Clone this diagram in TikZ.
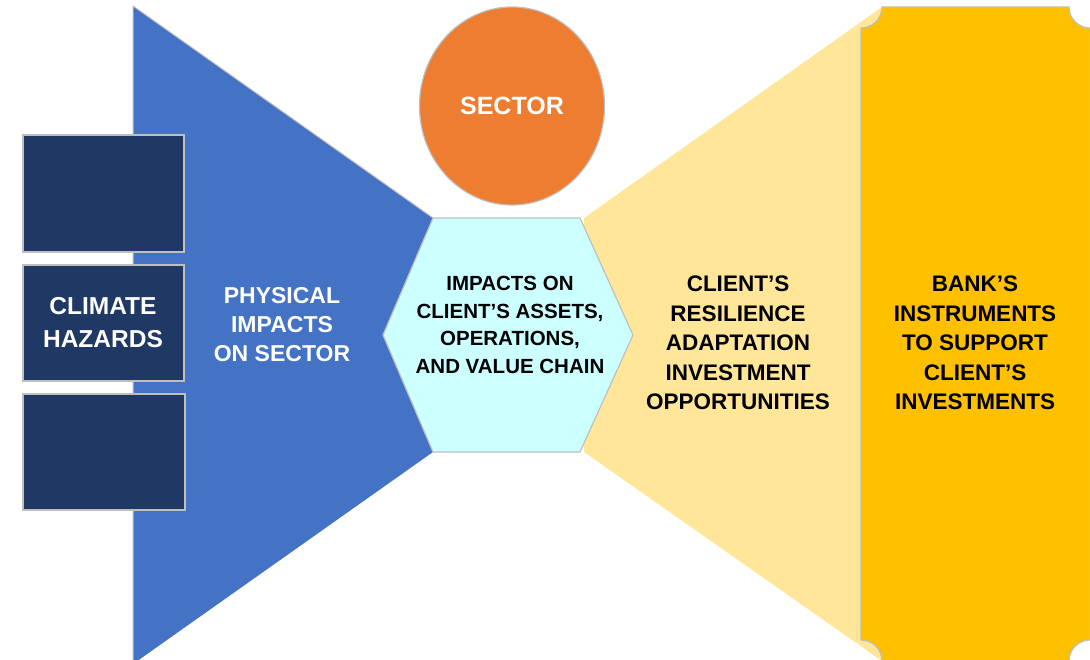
\documentclass[tikz,border=0pt]{standalone}
\usepackage{fontspec}
\setmainfont{Liberation Sans}

\definecolor{hazardblue}{HTML}{1F3864}
\definecolor{impactblue}{HTML}{4472C4}
\definecolor{sectororange}{HTML}{ED7D31}
\definecolor{hexcyan}{HTML}{CCFFFF}
\definecolor{paleyellow}{HTML}{FFE699}
\definecolor{bankyellow}{HTML}{FFC000}
\definecolor{edgegray}{HTML}{BFBFBF}

\begin{document}
\begin{tikzpicture}[x=1pt, y=-1pt,
    edge/.style={draw=edgegray, line width=1.2pt},
    label/.style={align=center, font=\bfseries},
    hazard/.style={edge, fill=hazardblue}]
        \useasboundingbox (0,0) rectangle (1090,660);
        \clip (0,0) rectangle (1090,660);

        % funnel coming in from the left
        \coordinate (bt) at (133,6);
        \coordinate (bb) at (133,664);
        \coordinate (bht) at (433,218);
        \coordinate (bhb) at (433,452);
        \fill [impactblue] (bt) -- (bht) -- (bhb) -- (bb) -- cycle;
        \draw [edgegray, line width=1pt] (bb) -- (bt) -- (bht);

        % funnel going out to the right
        \coordinate (yt) at (882,7);
        \coordinate (yb) at (882,661);
        \coordinate (yht) at (584,218);
        \coordinate (yhb) at (584,452);
        \fill [paleyellow] (yht) -- (yt) -- (yb) -- (yhb) -- cycle;

        % plaque on the right
        \draw [edge, fill=bankyellow] (861,28) arc [start angle=90, end angle=0, radius=21]
          -- (1069,7) arc [start angle=180, end angle=90, radius=21]
          -- (1090,640) arc [start angle=270, end angle=180, radius=21]
          -- (882,661) arc [start angle=0, end angle=-90, radius=21]
          -- cycle;

        % hazard boxes
        \draw [hazard] (23,135) rectangle (184,252);
        \draw [hazard] (23,265) rectangle (184,381);
        \draw [hazard] (23,394) rectangle (185,510);

        % hexagon in the middle
        \coordinate (h1) at (433,218);
        \coordinate (h2) at (580,218);
        \coordinate (h3) at (633,335);
        \coordinate (h4) at (580,452);
        \coordinate (h5) at (433,452);
        \coordinate (h6) at (383,335);
        \draw [edge, fill=hexcyan] (h1) -- (h2) -- (h3) -- (h4) -- (h5) -- (h6) -- cycle;

        % sector circle
        \draw [edge, fill=sectororange] (512,106) ellipse [x radius=92.5, y radius=99];

        \node [label, text=white, font=\bfseries\fontsize{24.5}{33}\selectfont] (hazards) at (103,323)
          {CLIMATE\\HAZARDS};
        \node [label, text=white, font=\bfseries\fontsize{23}{29}\selectfont] (physical) at (282,325)
          {PHYSICAL\\IMPACTS\\ON SECTOR};
        \node [label, text=white, font=\bfseries\fontsize{25}{30}\selectfont] (sector) at (512,106)
          {SECTOR};
        \node [label, font=\bfseries\fontsize{20.5}{27.7}\selectfont] (client) at (510,325)
          {IMPACTS ON\\CLIENT’S ASSETS,\\OPERATIONS,\\AND VALUE CHAIN};
        \node [label, font=\bfseries\fontsize{22.5}{29.5}\selectfont] (resilience) at (738,343)
          {CLIENT’S\\RESILIENCE\\ADAPTATION\\INVESTMENT\\OPPORTUNITIES};
        \node [label, font=\bfseries\fontsize{22.5}{29.5}\selectfont] (bank) at (975,343)
          {BANK’S\\INSTRUMENTS\\TO SUPPORT\\CLIENT’S\\INVESTMENTS};
      \end{tikzpicture}
\end{document}
